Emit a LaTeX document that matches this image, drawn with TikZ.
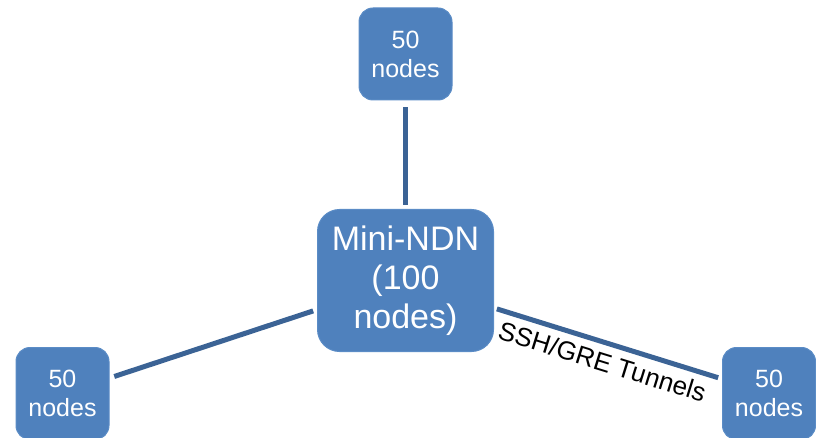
\documentclass[tikz,border=0pt]{standalone}
\usepackage{fontspec}
\setmainfont{Liberation Sans}
\definecolor{boxblue}{HTML}{4F81BD}
\definecolor{boxedge}{HTML}{5B8CC6}
\definecolor{linkblue}{HTML}{3B6395}
\begin{document}
\begin{tikzpicture}[x=1pt,y=-1pt,
  smallbox/.style={draw=boxedge, line width=1pt, fill=boxblue, rounded corners=14pt,
    minimum width=93pt, minimum height=92pt, text=white, align=center,
    font=\fontsize{25}{29}\selectfont, inner sep=0pt},
  bigbox/.style={draw=boxedge, line width=1pt, fill=boxblue, rounded corners=22pt,
    minimum width=176pt, minimum height=142pt, text=white, align=center,
    font=\fontsize{34}{39}\selectfont, inner sep=0pt},
  link/.style={draw=linkblue, line width=5pt}]
\useasboundingbox (0,0) rectangle (816,438);
\node[bigbox] (c) at (405.5,280.5) {Mini-NDN\\(100\\nodes)};
\node[smallbox] (t) at (405.5,54) {50\\nodes};
\node[smallbox] (l) at (62.5,393.5) {50\\nodes};
\node[smallbox] (r) at (769,393.5) {50\\nodes};
\draw[link, shorten <=7pt, shorten >=4pt] (t) -- (c);
\draw[link, shorten <=5pt, shorten >=4pt] (l) -- (c);
\draw[link, shorten <=3pt, shorten >=4pt] (c) -- (r)
  node[midway, sloped, below=7pt, text=black, font=\fontsize{26}{30}\selectfont, inner sep=0pt] (lab) {SSH/GRE Tunnels};
\end{tikzpicture}
\end{document}
